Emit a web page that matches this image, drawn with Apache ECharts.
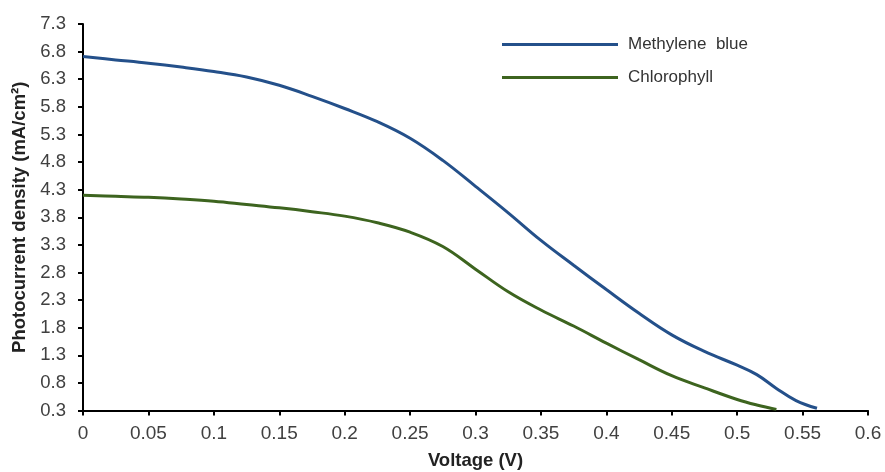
<!DOCTYPE html>
<html>
<head>
<meta charset="utf-8">
<script src="https://cdn.jsdelivr.net/npm/echarts@6/dist/echarts.min.js"></script>
<style>
html,body{margin:0;padding:0;background:#fff;}
#chart{width:885px;height:472px;}
</style>
</head>
<body>
<div id="chart"></div>
<script>
const blueName = 'Methylene  blue';
const greenName = 'Chlorophyll';
const blueV = [0, 0.025, 0.05, 0.075, 0.1, 0.125, 0.15, 0.175, 0.2, 0.225, 0.25, 0.275, 0.3, 0.325, 0.35, 0.375, 0.4, 0.425, 0.45, 0.475, 0.5, 0.515, 0.53, 0.545, 0.561];
const blueI = [6.71, 6.65, 6.59, 6.52, 6.44, 6.34, 6.19, 5.99, 5.77, 5.53, 5.23, 4.83, 4.36, 3.88, 3.38, 2.93, 2.49, 2.06, 1.67, 1.37, 1.12, 0.95, 0.70, 0.48, 0.34];
const greenV = [0, 0.025, 0.05, 0.075, 0.1, 0.125, 0.15, 0.175, 0.2, 0.225, 0.25, 0.275, 0.3, 0.325, 0.35, 0.375, 0.4, 0.425, 0.45, 0.475, 0.5, 0.515, 0.53];
const greenI = [4.20, 4.18, 4.16, 4.13, 4.09, 4.03, 3.97, 3.90, 3.82, 3.70, 3.53, 3.27, 2.86, 2.45, 2.12, 1.83, 1.52, 1.22, 0.93, 0.71, 0.50, 0.40, 0.32];
const yTicks = [0.3, 0.8, 1.3, 1.8, 2.3, 2.8, 3.3, 3.8, 4.3, 4.8, 5.3, 5.8, 6.3, 6.8, 7.3];
const xTicks = [0, 0.05, 0.1, 0.15, 0.2, 0.25, 0.3, 0.35, 0.4, 0.45, 0.5, 0.55, 0.6];

const pair = (xs, ys) => xs.map((x, i) => [x, ys[i]]);
const font = 'Liberation Sans, Arial, sans-serif';
const chart = echarts.init(document.getElementById('chart'));
chart.setOption({
  backgroundColor: '#fff',
  animation: false,
  grid: {left: 83, right: 17, top: 24, bottom: 61.5, outerBoundsMode: 'none', containLabel: false},
  legend: {
    orient: 'vertical', left: 497, top: 31, itemWidth: 116, itemHeight: 3, itemGap: 16,
    icon: 'rect',
    textStyle: {fontFamily: font, fontSize: 17, color: '#333', padding: [0, 0, 0, 5]},
    data: [blueName, greenName]
  },
  xAxis: {
    type: 'value', min: 0, max: 0.6,
    name: 'Voltage (V)', nameLocation: 'middle', nameGap: 41,
    nameTextStyle: {fontFamily: font, fontSize: 18.5, fontWeight: 'bold', color: '#222'},
    axisLine: {show: true, lineStyle: {color: '#000', width: 2}},
    axisTick: {show: true, length: 5, lineStyle: {color: '#000', width: 2}, customValues: xTicks},
    axisLabel: {fontFamily: font, fontSize: 19, color: '#404040', margin: 14, customValues: xTicks,
      formatter: v => String(+v.toFixed(2))},
    splitLine: {show: false}
  },
  yAxis: {
    type: 'value', min: 0.3, max: 7.3,
    name: 'Photocurrent density (mA/cm²)', nameLocation: 'middle', nameGap: 47, nameRotate: 90,
    nameTextStyle: {fontFamily: font, fontSize: 18.5, fontWeight: 'bold', color: '#222'},
    axisLine: {show: true, lineStyle: {color: '#000', width: 2}},
    axisTick: {show: true, length: 5, lineStyle: {color: '#000', width: 2}, customValues: yTicks},
    axisLabel: {fontFamily: font, fontSize: 18.5, color: '#404040', margin: 17, customValues: yTicks,
      formatter: v => (+v).toFixed(1)},
    splitLine: {show: false}
  },
  series: [
    {name: blueName, type: 'line', data: pair(blueV, blueI), smooth: 0.4, showSymbol: false,
      lineStyle: {color: '#24508a', width: 3}, itemStyle: {color: '#24508a'}},
    {name: greenName, type: 'line', data: pair(greenV, greenI), smooth: 0.4, showSymbol: false,
      lineStyle: {color: '#3d641f', width: 3}, itemStyle: {color: '#3d641f'}}
  ]
});
</script>
</body>
</html>
